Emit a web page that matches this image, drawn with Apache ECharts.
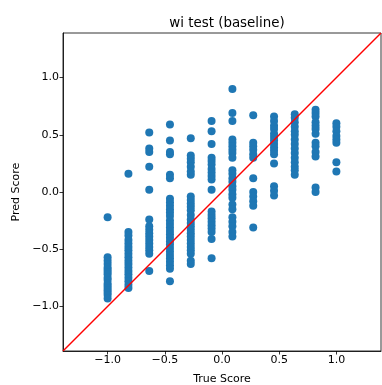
<!DOCTYPE html>
<html>
<head>
<meta charset="utf-8">
<script src="https://cdn.jsdelivr.net/npm/echarts@6/dist/echarts.min.js"></script>
<style>html,body{margin:0;padding:0;background:#fff;overflow:hidden}#c{width:382px;height:385px}</style>
</head>
<body>
<div id="c"></div>
<script>
// ---- data ----
const chartTitle = "wi test (baseline)";
const xLabel = "True Score";
const yLabel = "Pred Score";
const axisMin = -1.39;
const axisMax = 1.39;
const tickValues = [-1.0, -0.5, 0.0, 0.5, 1.0];
const trueLevels = [-1.0, -0.818, -0.636, -0.455, -0.273, -0.091, 0.091, 0.273, 0.455, 0.636, 0.818, 1.0];
const predM100 = [-0.22, -0.57, -0.60, -0.63, -0.66, -0.68, -0.70, -0.72, -0.75, -0.77, -0.80, -0.82, -0.84, -0.86, -0.88, -0.90, -0.93];
const predM082 = [0.16, -0.35, -0.38, -0.42, -0.45, -0.48, -0.51, -0.54, -0.57, -0.60, -0.63, -0.66, -0.69, -0.72, -0.75, -0.78, -0.81, -0.84];
const predM064 = [0.52, 0.38, 0.35, 0.22, 0.02, -0.24, -0.30, -0.33, -0.36, -0.39, -0.42, -0.45, -0.48, -0.51, -0.54, -0.69];
const predM045 = [0.59, 0.45, 0.35, 0.33, 0.15, 0.12, -0.06, -0.09, -0.12, -0.15, -0.18, -0.21, -0.25, -0.28, -0.31, -0.34, -0.37, -0.40, -0.43, -0.46, -0.49, -0.52, -0.55, -0.58, -0.61, -0.64, -0.67, -0.78];
const predM027 = [0.47, 0.32, 0.29, 0.26, 0.22, 0.18, 0.15, -0.04, -0.07, -0.10, -0.13, -0.16, -0.20, -0.24, -0.27, -0.30, -0.33, -0.36, -0.39, -0.42, -0.45, -0.48, -0.51, -0.54, -0.60, -0.63];
const predM009 = [0.62, 0.53, 0.42, 0.30, 0.27, 0.24, 0.20, 0.17, 0.14, 0.11, 0.02, -0.17, -0.20, -0.23, -0.26, -0.29, -0.32, -0.35, -0.41, -0.58];
const predP009 = [0.90, 0.69, 0.62, 0.46, 0.43, 0.40, 0.37, 0.34, 0.30, 0.19, 0.16, 0.12, 0.09, 0.05, 0.02, -0.02, -0.05, -0.11, -0.15, -0.22, -0.26, -0.30, -0.35, -0.39];
const predP027 = [0.67, 0.43, 0.40, 0.37, 0.33, 0.30, 0.12, 0.00, -0.04, -0.08, -0.12, -0.31];
const predP045 = [0.66, 0.62, 0.58, 0.55, 0.51, 0.48, 0.45, 0.42, 0.39, 0.36, 0.33, 0.25, 0.05, 0.01, -0.03];
const predP064 = [0.68, 0.65, 0.61, 0.57, 0.53, 0.50, 0.46, 0.42, 0.38, 0.34, 0.30, 0.26, 0.22, 0.19, 0.15];
const predP082 = [0.72, 0.69, 0.66, 0.61, 0.58, 0.55, 0.51, 0.43, 0.40, 0.35, 0.31, 0.04, 0.00];
const predP100 = [0.60, 0.57, 0.53, 0.49, 0.46, 0.43, 0.26, 0.18];
const predByLevel = [predM100, predM082, predM064, predM045, predM027, predM009, predP009, predP027, predP045, predP064, predP082, predP100];

// ---- build ----
const points = [];
trueLevels.forEach((x, i) => predByLevel[i].forEach(y => points.push([x, y])));

const font = "DejaVu Sans";
const fmt = v => {
  const hit = tickValues.some(t => Math.abs(t - v) < 1e-6);
  if (!hit) return '';
  return v.toFixed(1).replace('-', '\u2212');
};
const axisCommon = {
  type: 'value', min: axisMin, max: axisMax, splitNumber: 5,
  splitLine: { show: false },
  axisLine: { show: true, onZero: false, lineStyle: { color: '#000', width: 0.8 } },
  axisTick: { show: true, inside: false, length: 3.5, lineStyle: { color: '#000', width: 0.8 } },
  axisLabel: { formatter: fmt, color: '#000', fontFamily: font, fontSize: 11, margin: 4, showMinLabel: false, showMaxLabel: false },
  nameLocation: 'middle',
  nameTextStyle: { color: '#000', fontFamily: font, fontSize: 11 }
};

const chart = echarts.init(document.getElementById('c'), null, { renderer: 'canvas', width: 382, height: 385 });
chart.setOption({
  animation: false,
  backgroundColor: '#fff',
  title: { text: chartTitle, left: 222, top: 12, textAlign: 'center',
    textStyle: { fontFamily: font, fontSize: 13.4, fontWeight: 'normal', color: '#000' } },
  grid: { left: 63, top: 33, width: 318, height: 318, containLabel: false, outerBoundsMode: 'none',
    show: true, borderColor: '#000', borderWidth: 0.8 },
  xAxis: Object.assign({}, axisCommon, { name: xLabel, nameGap: 23, position: 'bottom' }),
  yAxis: Object.assign({}, axisCommon, { name: yLabel, nameGap: 39, position: 'left' }),
  series: [
    { type: 'scatter', data: points, symbolSize: 8, itemStyle: { color: '#1f77b4', opacity: 1 }, z: 2 },
    { type: 'line', data: [[axisMin, axisMin], [axisMax, axisMax]], symbol: 'none',
      lineStyle: { color: '#ff0000', width: 1.4 }, z: 3, clip: true }
  ]
});
</script>
</body>
</html>
